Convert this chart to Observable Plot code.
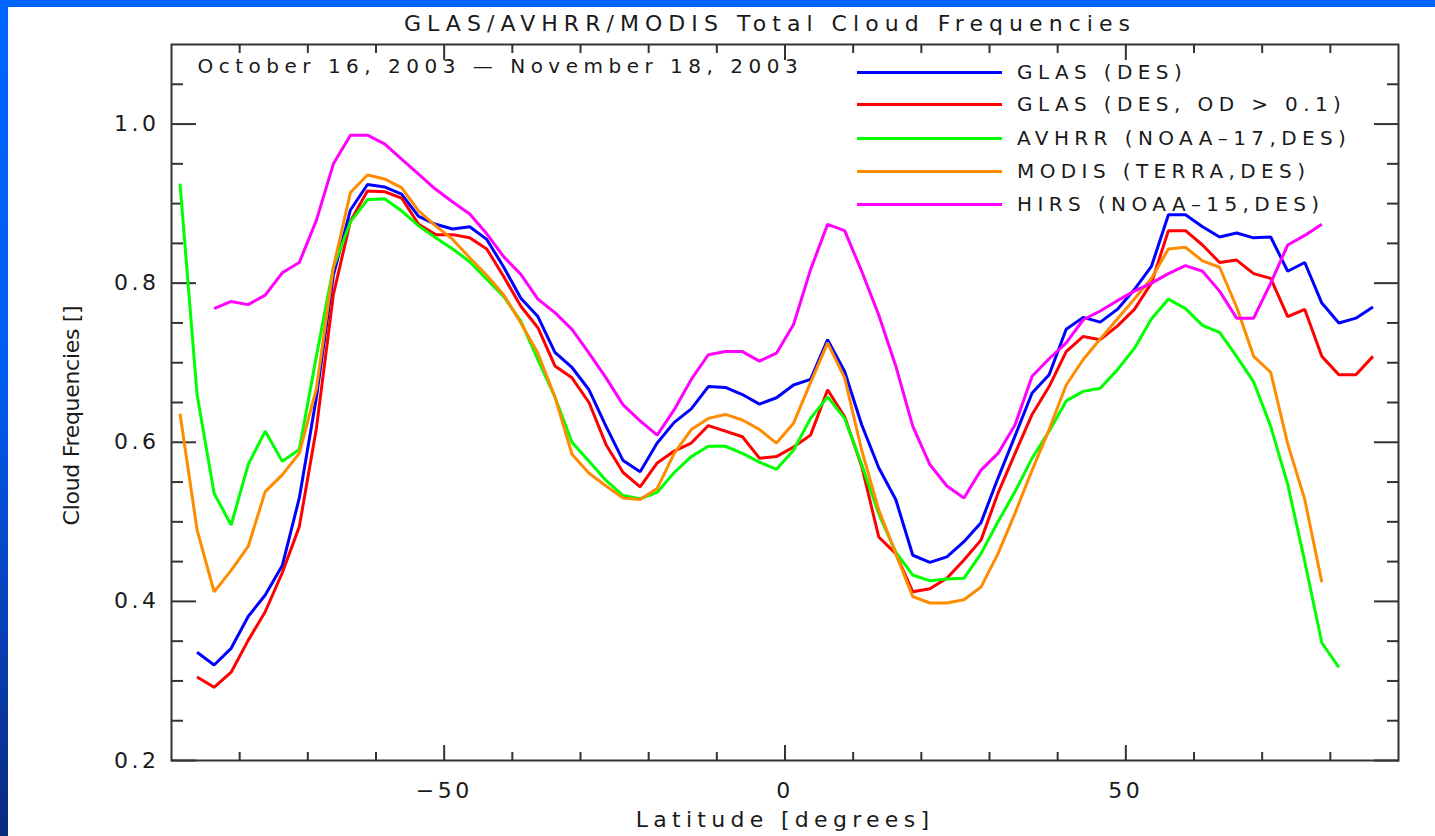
<!DOCTYPE html>
<html>
<head>
<meta charset="utf-8">
<script src="https://cdn.jsdelivr.net/npm/d3@7"></script>
<script src="https://cdn.jsdelivr.net/npm/@observablehq/plot@0.6"></script>
<style>
  html, body { margin: 0; padding: 0; }
  body {
    width: 1435px; height: 836px; overflow: hidden; position: relative;
    background: linear-gradient(180deg, #0064ff 0%, #005cf0 45%, #0840b8 75%, #0a2a7e 100%);
    font-family: "DejaVu Sans", sans-serif;
  }
  #page { position: absolute; left: 8px; top: 7px; width: 1427px; height: 829px; background: #fff; }
  #title {
    position: absolute; left: 762px; top: 4px; transform: translateX(-50%);
    white-space: nowrap; font-size: 22px; letter-spacing: 6.05px; color: #1a1a1a; line-height: 26px;
  }
  #chart { position: absolute; left: 0; top: 30px; }
  #chart svg text { fill: #1a1a1a; }
  g[aria-label="x-axis tick label"] text, g[aria-label="y-axis tick label"] text { letter-spacing: 3.5px; }
  #legend { position: absolute; left: 0; top: 0; }
  .lg-line { position: absolute; height: 3px; width: 145px; left: 849px; }
  .lg-text { position: absolute; left: 1009px; font-size: 20px; letter-spacing: 5.4px; color: #1a1a1a; white-space: nowrap; line-height: 24px; }
</style>
</head>
<body>
<div id="page">
  <div id="title">GLAS/AVHRR/MODIS Total Cloud Frequencies</div>
  <div id="chart"></div>
  <div id="legend"></div>
</div>
<script>
// Latitude bin centres (degrees)
const lats = [-88.75,-86.25,-83.75,-81.25,-78.75,-76.25,-73.75,-71.25,-68.75,-66.25,-63.75,
  -61.25,-58.75,-56.25,-53.75,-51.25,-48.75,-46.25,-43.75,-41.25,-38.75,
  -36.25,-33.75,-31.25,-28.75,-26.25,-23.75,-21.25,-18.75,-16.25,-13.75,
  -11.25,-8.75,-6.25,-3.75,-1.25,1.25,3.75,6.25,8.75,11.25,
  13.75,16.25,18.75,21.25,23.75,26.25,28.75,31.25,33.75,36.25,
  38.75,41.25,43.75,46.25,48.75,51.25,53.75,56.25,58.75,61.25,
  63.75,66.25,68.75,71.25,73.75,76.25,78.75,81.25,83.75,86.25];

const glasDes = [null,
  0.336,0.320,0.341,0.381,0.408,0.445,0.530,0.656,0.810,0.892,
  0.924,0.921,0.912,0.884,0.874,0.868,0.871,0.855,0.820,0.781,
  0.758,0.713,0.694,0.666,0.620,0.577,0.563,0.599,0.625,0.642,
  0.670,0.669,0.660,0.648,0.656,0.672,0.679,0.729,0.689,0.622,
  0.568,0.528,0.458,0.449,0.456,0.475,0.499,0.555,0.608,0.662,
  0.685,0.742,0.757,0.751,0.767,0.792,0.821,0.886,0.886,0.871,
  0.858,0.863,0.857,0.858,0.815,0.826,0.775,0.750,0.756,0.770];

const glasOd = [null,
  0.305,0.292,0.311,0.351,0.387,0.436,0.494,0.617,0.786,0.878,
  0.916,0.915,0.907,0.874,0.861,0.861,0.857,0.843,0.808,0.771,
  0.744,0.696,0.681,0.650,0.597,0.562,0.544,0.574,0.589,0.599,
  0.621,0.614,0.607,0.580,0.582,0.594,0.609,0.666,0.632,0.570,
  0.481,0.460,0.412,0.416,0.429,0.452,0.477,0.536,0.586,0.635,
  0.670,0.714,0.733,0.729,0.746,0.767,0.800,0.866,0.866,0.848,
  0.826,0.829,0.812,0.806,0.758,0.767,0.708,0.685,0.685,0.708];

const avhrr = [0.925,
  0.660,0.536,0.496,0.572,0.614,0.576,0.591,0.708,0.820,0.877,
  0.905,0.906,0.891,0.872,0.857,0.843,0.827,0.805,0.783,0.752,
  0.704,0.657,0.600,0.576,0.552,0.533,0.529,0.537,0.562,0.582,
  0.595,0.595,0.586,0.575,0.566,0.590,0.630,0.657,0.630,0.572,
  0.510,0.462,0.433,0.426,0.428,0.429,0.460,0.500,0.538,0.580,
  0.614,0.652,0.664,0.668,0.691,0.718,0.755,0.780,0.768,0.747,
  0.738,0.708,0.676,0.620,0.547,0.450,0.348,0.317,null,null];

const modis = [0.636,
  0.490,0.412,0.439,0.469,0.538,0.559,0.586,0.667,0.820,0.914,
  0.936,0.931,0.920,0.891,0.872,0.855,0.832,0.810,0.785,0.750,
  0.712,0.657,0.585,0.561,0.545,0.530,0.528,0.542,0.586,0.616,
  0.630,0.635,0.628,0.616,0.599,0.624,0.675,0.725,0.681,0.590,
  0.515,0.460,0.406,0.398,0.398,0.402,0.418,0.460,0.511,0.565,
  0.616,0.672,0.704,0.730,0.755,0.780,0.806,0.843,0.845,0.828,
  0.820,0.770,0.708,0.688,0.598,0.528,0.424,null,null,null];

const hirs = [null,
  null,0.768,0.777,0.773,0.785,0.813,0.826,0.879,0.950,0.986,
  0.986,0.975,0.956,0.937,0.918,0.902,0.887,0.862,0.833,0.811,
  0.780,0.763,0.742,0.712,0.681,0.647,0.627,0.609,0.641,0.679,
  0.710,0.714,0.714,0.702,0.712,0.748,0.817,0.874,0.866,0.815,
  0.760,0.696,0.620,0.572,0.545,0.530,0.565,0.586,0.622,0.683,
  0.705,0.725,0.754,0.765,0.778,0.790,0.800,0.812,0.822,0.815,
  0.790,0.756,0.756,0.800,0.848,0.860,0.874,null,null,null];

const seriesNames = ["GLAS (DES)", "GLAS (DES, OD > 0.1)", "AVHRR (NOAA–17,DES)", "MODIS (TERRA,DES)", "HIRS (NOAA–15,DES)"];
const seriesColors = ["#0000ff", "#ff0000", "#00ff00", "#ff8c00", "#ff00ff"];
const seriesValues = [glasDes, glasOd, avhrr, modis, hirs];

const xMajor = [-50, 0, 50];
const xMinor = [-80, -70, -60, -40, -30, -20, -10, 10, 20, 30, 40, 60, 70, 80];
const yMajor = [0.2, 0.4, 0.6, 0.8, 1.0];
const yMinor = [0.25, 0.3, 0.35, 0.45, 0.5, 0.55, 0.65, 0.7, 0.75, 0.85, 0.9, 0.95, 1.05];

const xLabel = "Latitude [degrees]";
const yLabel = "Cloud Frequencies []";
const dateText = "October 16, 2003 — November 18, 2003";

// long table
const rows = [];
seriesValues.forEach((vals, s) => {
  vals.forEach((v, i) => { if (v != null) rows.push({series: seriesNames[s], lat: lats[i], value: v}); });
});

const tickStroke = "#333";
const chart = Plot.plot({
  width: 1427,
  height: 799,
  marginLeft: 163,
  marginRight: 37,
  marginTop: 7,
  marginBottom: 76,
  style: {fontFamily: "'DejaVu Sans', sans-serif", background: "transparent", overflow: "visible"},
  x: {domain: [-90, 90]},
  y: {domain: [0.2, 1.1]},
  color: {domain: seriesNames, range: seriesColors},
  marks: [
    // inward ticks on all four sides
    Plot.axisX({anchor: "bottom", ticks: xMajor, tickSize: -15, fill: "none", stroke: tickStroke, strokeWidth: 2, label: null}),
    Plot.axisX({anchor: "bottom", ticks: xMinor, tickSize: -8, fill: "none", stroke: tickStroke, strokeWidth: 2, label: null}),
    Plot.axisX({anchor: "top", ticks: xMajor, tickSize: -15, fill: "none", stroke: tickStroke, strokeWidth: 2, label: null}),
    Plot.axisX({anchor: "top", ticks: xMinor, tickSize: -8, fill: "none", stroke: tickStroke, strokeWidth: 2, label: null}),
    Plot.axisY({anchor: "left", ticks: yMajor, tickSize: -25, fill: "none", stroke: tickStroke, strokeWidth: 2, label: null}),
    Plot.axisY({anchor: "left", ticks: yMinor, tickSize: -12, fill: "none", stroke: tickStroke, strokeWidth: 2, label: null}),
    Plot.axisY({anchor: "right", ticks: yMajor, tickSize: -25, fill: "none", stroke: tickStroke, strokeWidth: 2, label: null}),
    Plot.axisY({anchor: "right", ticks: yMinor, tickSize: -12, fill: "none", stroke: tickStroke, strokeWidth: 2, label: null}),
    // tick labels
    Plot.axisX({anchor: "bottom", ticks: xMajor, tickSize: 0, tickPadding: 22, fontSize: 22, label: null}),
    Plot.axisY({anchor: "left", ticks: yMajor, tickSize: 0, tickPadding: 12, fontSize: 22, tickFormat: d => d.toFixed(1), label: null}),
    // series
    Plot.line(rows, {x: "lat", y: "value", z: "series", stroke: "series", strokeWidth: 3, strokeLinejoin: "miter", strokeLinecap: "butt"}),
    Plot.frame({stroke: tickStroke, strokeWidth: 2}),
    // axis titles and inset text
    Plot.text([xLabel], {frameAnchor: "bottom", dx: 0, dy: 59, fontSize: 22, textAnchor: "middle", lineAnchor: "middle"}),
    Plot.text([yLabel], {frameAnchor: "left", dx: -100, dy: 13, rotate: -90, fontSize: 22, textAnchor: "middle", lineAnchor: "middle"}),
    Plot.text([dateText], {frameAnchor: "top-left", dx: 26, dy: 22, fontSize: 20, textAnchor: "start", lineAnchor: "middle"})
  ]
});
document.getElementById("chart").appendChild(chart);

// letter spacing for the spaced-out texts
d3.select(chart).selectAll("text").each(function () {
  const t = this.textContent;
  if (t === xLabel) this.setAttribute("letter-spacing", "5.3");
  if (t === dateText) this.setAttribute("letter-spacing", "5.5");
  if (t === yLabel) this.setAttribute("letter-spacing", "-0.3");
});

// legend inside the plot frame
const legend = document.getElementById("legend");
const legendY = [65, 97, 131, 164, 197];
seriesNames.forEach((name, i) => {
  const line = document.createElement("div");
  line.className = "lg-line";
  line.style.top = (legendY[i] - 1.5) + "px";
  line.style.background = seriesColors[i];
  legend.appendChild(line);
  const txt = document.createElement("div");
  txt.className = "lg-text";
  txt.style.top = (legendY[i] - 12) + "px";
  txt.textContent = name;
  legend.appendChild(txt);
});
</script>
</body>
</html>
